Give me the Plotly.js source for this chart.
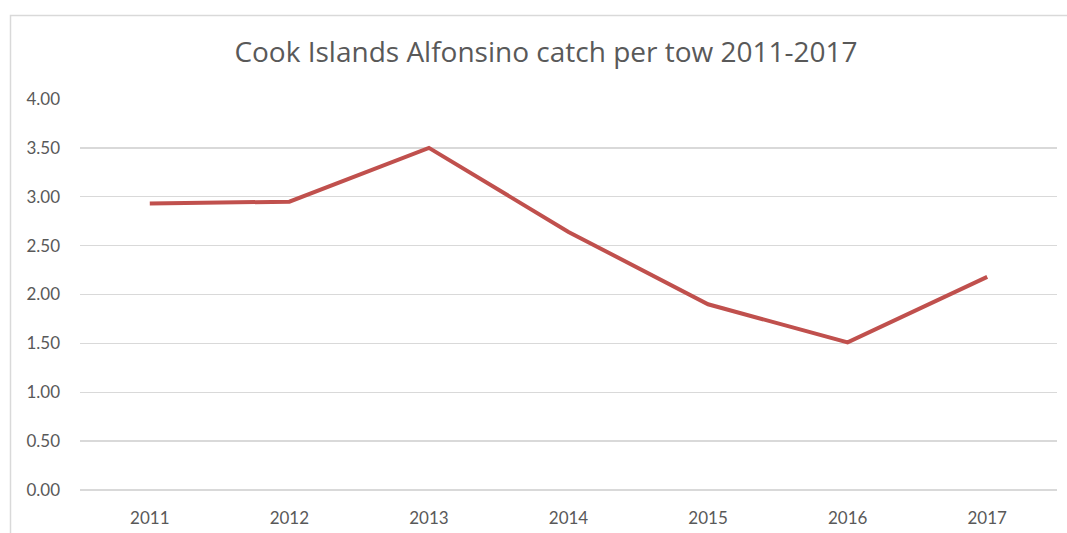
<!DOCTYPE html>
<html>
<head>
<meta charset="utf-8">
<script src="https://cdn.plot.ly/plotly-3.0.1.min.js"></script>
<style>
html,body{margin:0;padding:0;background:#fff;overflow:hidden;}
#chart{width:1067px;height:533px;}
</style>
</head>
<body>
<div id="chart"></div>
<script>
const years = ["2011","2012","2013","2014","2015","2016","2017"];
const catchPerTow = [2.93, 2.95, 3.50, 2.64, 1.90, 1.51, 2.18];
const yTicks = [0, 0.5, 1, 1.5, 2, 2.5, 3, 3.5, 4];
const yTickLabels = ["0.00","0.50","1.00","1.50","2.00","2.50","3.00","3.50","4.00"];

const W = 1067, H = 533;
const m = {l: 80, r: 10, t: 99, b: 43};
const pw = W - m.l - m.r, ph = H - m.t - m.b;
function px2paperX(px){ return (px - m.l) / pw; }
function px2paperY(py){ return (H - m.b - py) / ph; }

const trace = {
  x: years,
  y: catchPerTow,
  type: 'scatter',
  mode: 'lines',
  line: {color: '#C0504D', width: 4},
  hoverinfo: 'x+y'
};

const layout = {
  width: W, height: H,
  margin: m,
  paper_bgcolor: '#fff',
  plot_bgcolor: '#fff',
  showlegend: false,
  font: {family: 'Lato, "Open Sans", sans-serif', color: '#595959'},
  title: {
    text: 'Cook Islands Alfonsino catch per tow 2011-2017',
    font: {size: 28, color: '#595959', family: '"Open Sans", Lato, sans-serif'},
    x: 546 / W, xanchor: 'center',
    y: 1 - 52/H, yanchor: 'middle'
  },
  xaxis: {
    type: 'category',
    showgrid: false,
    zeroline: false,
    showline: false,
    ticks: '',
    ticklabelstandoff: 16,
    tickfont: {size: 17, color: '#595959'},
    range: [-0.5, 6.5]
  },
  yaxis: {
    range: [0, 4],
    tickvals: yTicks,
    ticktext: yTickLabels,
    showgrid: true,
    gridcolor: '#D9D9D9',
    gridwidth: 1.3,
    zeroline: true,
    zerolinecolor: '#D9D9D9',
    zerolinewidth: 1.3,
    showline: false,
    ticks: '',
    ticklabelstandoff: 19,
    tickfont: {size: 17, color: '#595959'}
  },
  shapes: [{
    type: 'rect',
    xref: 'paper', yref: 'paper',
    x0: px2paperX(10.5), x1: px2paperX(1080),
    y0: px2paperY(560), y1: px2paperY(15.5),
    line: {color: '#D9D9D9', width: 1.5},
    fillcolor: 'rgba(0,0,0,0)',
    layer: 'below'
  }]
};

Plotly.newPlot('chart', [trace], layout, {displayModeBar: false, staticPlot: true});
</script>
</body>
</html>
